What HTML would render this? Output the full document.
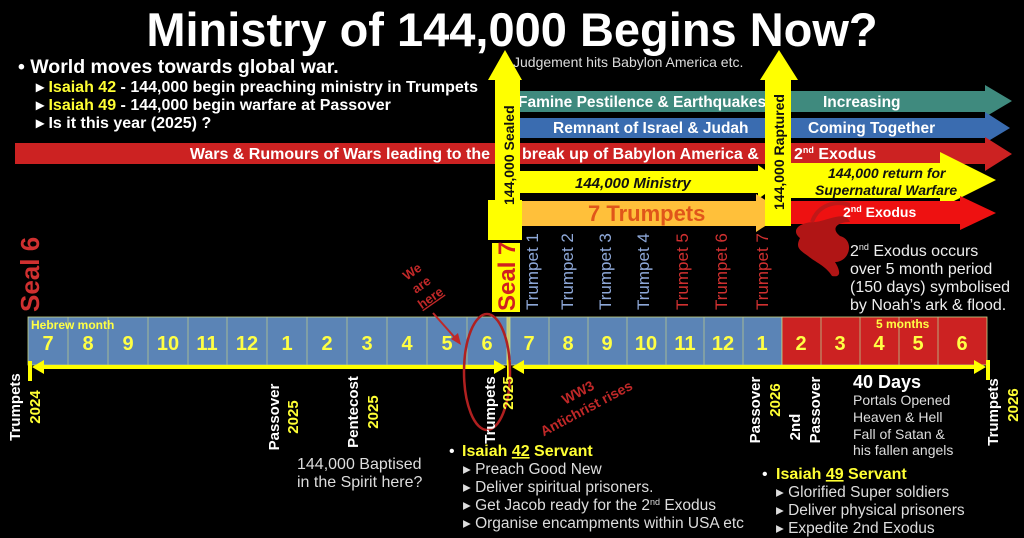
<!DOCTYPE html>
<html><head><meta charset="utf-8"><style>
html,body{margin:0;padding:0;background:#000;}
svg{display:block;font-family:"Liberation Sans",sans-serif;}
</style></head><body>
<svg width="1024" height="538" viewBox="0 0 1024 538" xmlns="http://www.w3.org/2000/svg">
<rect width="1024" height="538" fill="#000"/>
<!-- Title -->
<text x="512" y="46" text-anchor="middle" fill="#fff" font-weight="bold" font-size="47">Ministry of 144,000 Begins Now?</text>
<!-- bullets -->
<text x="18" y="73" fill="#fff" font-weight="bold" font-size="19.5">• World moves towards global war.</text>
<g font-size="16" font-weight="bold" fill="#fff">
<text x="36" y="92">▸ <tspan fill="#ffff33">Isaiah 42</tspan> - 144,000 begin preaching ministry in Trumpets</text>
<text x="36" y="110">▸ <tspan fill="#ffff33">Isaiah 49</tspan> - 144,000 begin warfare at Passover</text>
<text x="36" y="128">▸ Is it this year (2025) ?</text>
</g>
<text x="513" y="67" fill="#ddd" font-size="14">Judgement hits Babylon America etc.</text>

<!-- teal -->
<polygon points="515,91 985,91 985,85 1012,101 985,117 985,112 515,112" fill="#3f8a7e"/>
<!-- blue -->
<polygon points="515,118 985,118 985,112 1010,128 985,143 985,138 515,138" fill="#3a6cb0"/>
<!-- red -->
<polygon points="15,143 985,143 985,137 1012,154 985,171 985,164 15,164" fill="#cc2222"/>
<g font-weight="bold" font-size="15.5" fill="#fff">
<text x="518" y="107">Famine Pestilence &amp; Earthquakes</text>
<text x="823" y="107">Increasing</text>
<text x="553" y="133">Remnant of Israel &amp; Judah</text>
<text x="808" y="133">Coming Together</text>
<text x="490" y="159" text-anchor="end" font-size="16">Wars &amp; Rumours of Wars leading to the</text>
<text x="522" y="159" font-size="16">break up of Babylon America  &amp;</text>
<text x="794" y="159" font-size="16">2<tspan font-size="9" dy="-6">nd</tspan><tspan dy="6"> Exodus</tspan></text>
</g>

<!-- 144,000 ministry -->
<polygon points="515,171 758,171 758,165 782,182 758,199 758,193 515,193" fill="#ffff00"/>
<text x="575" y="188" font-weight="bold" font-style="italic" font-size="15" fill="#111">144,000 Ministry</text>
<!-- 7 trumpets -->
<polygon points="515,201 756,201 756,194 785,213 756,232 756,226 515,226" fill="#ffc03a"/>
<text x="588" y="221" font-weight="bold" font-size="22" fill="#e0561a">7 Trumpets</text>
<!-- return -->
<polygon points="790,163 940,163 940,152 996,180 940,208 940,198 790,198" fill="#ffff00"/>
<text x="828" y="178" font-weight="bold" font-style="italic" font-size="14" fill="#111">144,000 return for</text>
<text x="815" y="195" font-weight="bold" font-style="italic" font-size="14" fill="#111">Supernatural Warfare</text>
<!-- 2nd exodus -->
<polygon points="790,201 960,201 960,196 996,213 960,230 960,224 790,224" fill="#ee1111"/>
<text x="843" y="217" font-weight="bold" font-size="14" fill="#fff">2<tspan font-size="9" dy="-5">nd</tspan><tspan dy="5"> Exodus</tspan></text>

<!-- vertical arrows -->
<polygon points="495,80 488,80 505,50 522,80 520,80 520,200 495,200" fill="#ffff00"/>
<rect x="488" y="200" width="34" height="40" fill="#ffff00"/>
<text transform="translate(514,205) rotate(-90)" font-weight="bold" font-size="14" fill="#111">144,000 Sealed</text>
<rect x="492" y="243" width="28" height="69" fill="#ffff00"/>
<text transform="translate(515,311) rotate(-90)" font-weight="bold" font-size="24" fill="#d02020">Seal 7</text>

<polygon points="765,80 760,80 779,50 798,80 791,80 791,226 765,226" fill="#ffff00"/>
<text transform="translate(784,210) rotate(-90)" font-weight="bold" font-size="14" fill="#111">144,000 Raptured</text>

<!-- dragon -->
<path d="M800,238 C790,230 800,222 815,222 C830,220 845,210 850,222 C838,222 830,228 840,236 C855,240 850,262 835,262 C840,270 842,278 832,276 C826,266 815,262 808,256 C800,250 795,248 800,238 Z" fill="#b01515"/>
<path d="M812,222 C818,205 835,200 850,205" stroke="#c01818" stroke-width="4" fill="none"/>

<!-- Trumpets vertical -->
<g font-size="17" >
<text transform="translate(538,310) rotate(-90)" fill="#8ea8d8">Trumpet 1</text>
<text transform="translate(573,310) rotate(-90)" fill="#8ea8d8">Trumpet 2</text>
<text transform="translate(611,310) rotate(-90)" fill="#8ea8d8">Trumpet 3</text>
<text transform="translate(649,310) rotate(-90)" fill="#8ea8d8">Trumpet 4</text>
<text transform="translate(688,310) rotate(-90)" fill="#d03030">Trumpet 5</text>
<text transform="translate(727,310) rotate(-90)" fill="#d03030">Trumpet 6</text>
<text transform="translate(768,310) rotate(-90)" fill="#d03030">Trumpet 7</text>
</g>
<text transform="translate(39,312) rotate(-90)" font-weight="bold" font-size="26" fill="#d03030">Seal 6</text>

<g font-size="16" fill="#eee">
<text x="850" y="256">2<tspan font-size="9" dy="-6">nd</tspan><tspan dy="6"> Exodus occurs</tspan></text>
<text x="850" y="274">over 5 month period</text>
<text x="850" y="292">(150 days) symbolised</text>
<text x="850" y="310">by Noah’s ark &amp; flood.</text>
</g>

<!-- we are here -->
<g transform="translate(425,290) rotate(-35)" font-weight="bold" font-size="13" fill="#c02828" text-anchor="middle">
<text x="0" y="-18">We</text><text x="0" y="-2">are</text><text x="0" y="14" text-decoration="underline">here</text>
</g>

<!-- timeline -->
<g stroke="#c8d88a" stroke-width="0.8">
<rect x="28" y="317" width="479" height="48" fill="#5b84b6"/>
<rect x="507" y="317" width="3" height="48" fill="#c8c870"/>
<rect x="510" y="317" width="272" height="48" fill="#5b84b6"/>
<rect x="782" y="317" width="205" height="48" fill="#cc2222"/>
</g>
<g stroke="#b8c890" stroke-width="0.8">
<line x1="68" y1="317" x2="68" y2="365"/><line x1="108" y1="317" x2="108" y2="365"/><line x1="148" y1="317" x2="148" y2="365"/><line x1="188" y1="317" x2="188" y2="365"/><line x1="227" y1="317" x2="227" y2="365"/><line x1="267" y1="317" x2="267" y2="365"/><line x1="307" y1="317" x2="307" y2="365"/><line x1="347" y1="317" x2="347" y2="365"/><line x1="387" y1="317" x2="387" y2="365"/><line x1="427" y1="317" x2="427" y2="365"/><line x1="467" y1="317" x2="467" y2="365"/>
<line x1="549" y1="317" x2="549" y2="365"/><line x1="588" y1="317" x2="588" y2="365"/><line x1="627" y1="317" x2="627" y2="365"/><line x1="666" y1="317" x2="666" y2="365"/><line x1="704" y1="317" x2="704" y2="365"/><line x1="743" y1="317" x2="743" y2="365"/>
<line x1="821" y1="317" x2="821" y2="365"/><line x1="860" y1="317" x2="860" y2="365"/><line x1="899" y1="317" x2="899" y2="365"/><line x1="938" y1="317" x2="938" y2="365"/>
</g>
<text x="31" y="329" font-weight="bold" font-size="12" fill="#ffff44">Hebrew month</text>
<text x="876" y="328" font-weight="bold" font-size="12" fill="#ffff44">5 months</text>
<g font-weight="bold" font-size="20" fill="#ffff44" text-anchor="middle">
<text x="48" y="350">7</text><text x="88" y="350">8</text><text x="128" y="350">9</text><text x="168" y="350">10</text><text x="207" y="350">11</text><text x="247" y="350">12</text><text x="287" y="350">1</text><text x="327" y="350">2</text><text x="367" y="350">3</text><text x="407" y="350">4</text><text x="447" y="350">5</text><text x="487" y="350">6</text>
<text x="529" y="350">7</text><text x="568" y="350">8</text><text x="607" y="350">9</text><text x="646" y="350">10</text><text x="685" y="350">11</text><text x="723" y="350">12</text><text x="762" y="350">1</text>
<text x="801" y="350">2</text><text x="840" y="350">3</text><text x="879" y="350">4</text><text x="918" y="350">5</text><text x="962" y="350">6</text>
</g>
<!-- we are here arrow -->
<line x1="433" y1="313" x2="457" y2="340" stroke="#c02828" stroke-width="2"/>
<polygon points="461,345 451,339 458,333" fill="#c02828"/>

<!-- yellow ticks line -->
<g fill="#ffff00">
<rect x="28" y="361" width="4" height="20"/>
<rect x="507" y="360" width="4" height="20"/>
<rect x="986" y="360" width="4" height="20"/>
<rect x="36" y="365" width="464" height="4"/>
<polygon points="32,367 44,360 44,374"/>
<polygon points="506,367 494,360 494,374"/>
<rect x="518" y="365" width="462" height="4"/>
<polygon points="512,367 524,360 524,374"/>
<polygon points="986,367 974,360 974,374"/>
</g>
<ellipse cx="487" cy="372" rx="23" ry="58" fill="none" stroke="#b02020" stroke-width="2.5"/>

<!-- bottom rotated labels -->
<g font-weight="bold" font-size="15" text-anchor="middle">
<text transform="translate(20,407) rotate(-90)" fill="#fff">Trumpets</text>
<text transform="translate(40,407) rotate(-90)" fill="#ffff33">2024</text>
<text transform="translate(279,417) rotate(-90)" fill="#fff">Passover</text>
<text transform="translate(298,417) rotate(-90)" fill="#ffff33">2025</text>
<text transform="translate(358,412) rotate(-90)" fill="#fff">Pentecost</text>
<text transform="translate(378,412) rotate(-90)" fill="#ffff33">2025</text>
<text transform="translate(495,410) rotate(-90)" fill="#fff">Trumpets</text>
<text transform="translate(513,393) rotate(-90)" fill="#ffff33">2025</text>
<text transform="translate(760,410) rotate(-90)" fill="#fff">Passover</text>
<text transform="translate(780,400) rotate(-90)" fill="#ffff33">2026</text>
<text transform="translate(800,427) rotate(-90)" fill="#fff">2nd</text>
<text transform="translate(820,410) rotate(-90)" fill="#fff">Passover</text>
<text transform="translate(998,412) rotate(-90)" fill="#fff">Trumpets</text>
<text transform="translate(1018,405) rotate(-90)" fill="#ffff33">2026</text>
</g>
<g transform="translate(583,402) rotate(-28)" font-weight="bold" font-size="14" fill="#c02828" text-anchor="middle">
<text x="0" y="-6">WW3</text><text x="0" y="12">Antichrist rises</text>
</g>

<text x="853" y="388" font-weight="bold" font-size="18" fill="#fff">40 Days</text>
<g font-size="14" fill="#ddd">
<text x="853" y="405">Portals Opened</text>
<text x="853" y="422">Heaven &amp; Hell</text>
<text x="853" y="439">Fall of Satan &amp;</text>
<text x="853" y="455">his fallen angels</text>
</g>
<g font-size="16" fill="#ddd">
<text x="297" y="469">144,000 Baptised</text>
<text x="297" y="487">in the Spirit here?</text>
</g>

<text x="449" y="456" font-size="16" fill="#fff">•</text>
<text x="462" y="456" font-weight="bold" font-size="16" fill="#ffff33">Isaiah <tspan text-decoration="underline">42</tspan> Servant</text>
<g font-size="15.5" fill="#ddd">
<text x="463" y="474">▸  Preach Good New</text>
<text x="463" y="492">▸  Deliver spiritual prisoners.</text>
<text x="463" y="510">▸  Get Jacob ready for the 2<tspan font-size="9" dy="-5">nd</tspan><tspan dy="5"> Exodus</tspan></text>
<text x="463" y="528">▸  Organise encampments within USA etc</text>
</g>
<text x="762" y="479" font-size="16" fill="#fff">•</text>
<text x="776" y="479" font-weight="bold" font-size="16" fill="#ffff33">Isaiah <tspan text-decoration="underline">49</tspan> Servant</text>
<g font-size="15.5" fill="#ddd">
<text x="776" y="497">▸  Glorified Super soldiers</text>
<text x="776" y="515">▸  Deliver physical prisoners</text>
<text x="776" y="533">▸  Expedite 2nd Exodus</text>
</g>
</svg>
</body></html>
